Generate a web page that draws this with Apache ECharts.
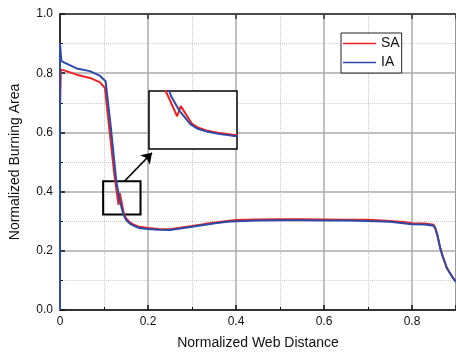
<!DOCTYPE html>
<html>
<head>
<meta charset="utf-8">
<script src="https://cdn.jsdelivr.net/npm/echarts@6/dist/echarts.min.js"></script>
<style>
  html, body { margin: 0; padding: 0; background: #fff; }
  #chart { width: 456px; height: 355px; }
</style>
</head>
<body>
<div id="chart"></div>
<script>
// [x, y] pairs
const saPoints = [
  [0, 0], [0, 0.68], [0.002, 0.812], [0.015, 0.807], [0.038, 0.795], [0.068, 0.784],
  [0.09, 0.770], [0.102, 0.751], [0.113, 0.60], [0.1237, 0.455], [0.133, 0.355],
  [0.136, 0.395], [0.145, 0.326], [0.150, 0.310], [0.158, 0.297], [0.168, 0.288],
  [0.18, 0.281], [0.2, 0.277], [0.225, 0.274], [0.25, 0.273], [0.277, 0.279],
  [0.30, 0.284], [0.33, 0.291], [0.353, 0.296], [0.38, 0.301], [0.40, 0.304],
  [0.45, 0.306], [0.50, 0.307], [0.55, 0.307], [0.60, 0.306], [0.65, 0.305],
  [0.70, 0.305], [0.75, 0.301], [0.78, 0.297], [0.80, 0.293], [0.83, 0.292],
  [0.849, 0.288], [0.853, 0.277], [0.858, 0.252], [0.864, 0.211], [0.87, 0.181],
  [0.879, 0.143], [0.886, 0.126], [0.893, 0.109], [0.9, 0.096]
];
const iaPoints = [
  [0, 0], [0, 0.902], [0.003, 0.842], [0.01, 0.836], [0.038, 0.816], [0.068, 0.807],
  [0.09, 0.792], [0.1036, 0.773], [0.116, 0.61], [0.128, 0.435], [0.135, 0.376],
  [0.144, 0.323], [0.150, 0.305], [0.158, 0.293], [0.168, 0.284], [0.18, 0.277],
  [0.2, 0.274], [0.225, 0.271], [0.25, 0.270], [0.277, 0.276], [0.30, 0.281],
  [0.33, 0.288], [0.353, 0.293], [0.38, 0.298], [0.40, 0.300], [0.45, 0.302],
  [0.50, 0.303], [0.55, 0.303], [0.60, 0.302], [0.65, 0.302], [0.70, 0.301],
  [0.75, 0.298], [0.78, 0.293], [0.80, 0.290], [0.83, 0.289], [0.849, 0.285],
  [0.853, 0.275], [0.858, 0.250], [0.864, 0.209], [0.87, 0.180], [0.879, 0.142],
  [0.886, 0.125], [0.893, 0.108], [0.9, 0.095]
];
const seriesNames = ['SA', 'IA'];
const seriesColors = ['#ee2222', '#2c4aa8'];

// zoom window shown in the inset, and the box marking it
const zoomX = [0.11, 0.182];
const zoomY = [0.225, 0.455];
const zoomBox = [[0.098, 0.435], [0.183, 0.323]];
const arrowFrom = [0.1464, 0.435];
const arrowTo = [0.209, 0.531];

const font = 'Liberation Sans, Arial, sans-serif';
const lineWidth = 2;

const chart = echarts.init(document.getElementById('chart'));

const chartOption = {
  animation: false,
  backgroundColor: '#fff',
  grid: [
    { left: 60, top: 14, right: -4, height: 298, show: true, borderColor: '#333', borderWidth: 1.5 },
    { left: 149, top: 91, width: 88, height: 58, show: true, borderColor: '#000', borderWidth: 1.5,
      backgroundColor: '#fff', z: 10 }
  ],
  legend: {
    data: seriesNames, orient: 'vertical', left: 341, top: 33,
    padding: [3, 2, 3, 2], itemGap: 4, itemWidth: 33, itemHeight: 1.5, icon: 'rect',
    borderColor: '#222', borderWidth: 1, backgroundColor: '#fff',
    textStyle: { fontFamily: font, fontSize: 14, lineHeight: 15, color: '#111' }
  },
  xAxis: [
    {
      gridIndex: 0, type: 'value', min: 0, max: 0.9, interval: 0.2,
      name: 'Normalized Web Distance', nameLocation: 'middle', nameGap: 26,
      nameTextStyle: { fontFamily: font, fontSize: 14, color: '#111' },
      axisLine: { show: true, lineStyle: { color: '#111', width: 1.5 } },
      axisTick: { show: true, inside: true, length: 5, lineStyle: { color: '#111', width: 1.5 } },
      minorTick: { show: true, splitNumber: 2, length: 3, lineStyle: { color: '#111' } },
      axisLabel: {
        fontFamily: font, fontSize: 12, color: '#111', margin: 6, showMaxLabel: false,
        formatter: (v) => (v === 0 ? '0' : v.toFixed(1))
      },
      splitLine: { show: true, lineStyle: { color: '#aaaaaa', width: 1.5 } },
      minorSplitLine: { show: true, lineStyle: { color: '#cccccc', type: 'dotted', width: 1 } }
    },
    {
      gridIndex: 0, type: 'value', position: 'top', min: 0, max: 0.9, interval: 0.2,
      axisLine: { show: true, lineStyle: { color: '#333', width: 1.5 } },
      axisTick: { show: true, inside: true, length: 5, lineStyle: { color: '#333', width: 1.5 } },
      axisLabel: { show: false }, splitLine: { show: false }
    },
    { gridIndex: 1, type: 'value', min: zoomX[0], max: zoomX[1], show: false, splitLine: { show: false } }
  ],
  yAxis: [
    {
      gridIndex: 0, type: 'value', min: 0, max: 1, interval: 0.2,
      name: 'Normalized Burning Area', nameLocation: 'middle', nameGap: 38,
      nameTextStyle: { fontFamily: font, fontSize: 14, color: '#111' },
      axisLine: { show: true, lineStyle: { color: '#111', width: 1.5 } },
      axisTick: { show: true, inside: true, length: 5, lineStyle: { color: '#111', width: 1.5 } },
      minorTick: { show: true, splitNumber: 2, length: 3, lineStyle: { color: '#111' } },
      axisLabel: { fontFamily: font, fontSize: 12, color: '#111', margin: 7, formatter: (v) => v.toFixed(1) },
      splitLine: { show: true, lineStyle: { color: '#aaaaaa', width: 1.5 } },
      minorSplitLine: { show: true, lineStyle: { color: '#cccccc', type: 'dotted', width: 1 } }
    },
    { gridIndex: 1, type: 'value', min: zoomY[0], max: zoomY[1], show: false, splitLine: { show: false } }
  ],
  series: [
    {
      name: seriesNames[0], type: 'line', xAxisIndex: 0, yAxisIndex: 0, data: saPoints,
      symbol: 'none', color: seriesColors[0], lineStyle: { width: lineWidth }, silent: true
    },
    {
      name: seriesNames[1], type: 'line', xAxisIndex: 0, yAxisIndex: 0, data: iaPoints,
      symbol: 'none', color: seriesColors[1], lineStyle: { width: lineWidth }, silent: true
    },
    {
      // box + arrow pointing at the inset
      name: 'zoom', type: 'line', xAxisIndex: 0, yAxisIndex: 0, data: [], z: 20, silent: true,
      markArea: {
        silent: true,
        itemStyle: { color: 'rgba(0,0,0,0)', borderColor: '#000', borderWidth: 2 },
        data: [[{ coord: zoomBox[0] }, { coord: zoomBox[1] }]]
      },
      markLine: {
        silent: true, symbol: ['none', 'arrow'], symbolSize: 10,
        label: { show: false },
        lineStyle: { color: '#000', width: 1.6, type: 'solid' },
        data: [[{ coord: arrowFrom }, { coord: arrowTo }]]
      }
    },
    {
      name: seriesNames[0], type: 'line', xAxisIndex: 2, yAxisIndex: 1, data: saPoints,
      symbol: 'none', color: seriesColors[0], lineStyle: { width: lineWidth }, silent: true, z: 12
    },
    {
      name: seriesNames[1], type: 'line', xAxisIndex: 2, yAxisIndex: 1, data: iaPoints,
      symbol: 'none', color: seriesColors[1], lineStyle: { width: lineWidth }, silent: true, z: 12
    }
  ]
};

chart.setOption(chartOption);
</script>
</body>
</html>
